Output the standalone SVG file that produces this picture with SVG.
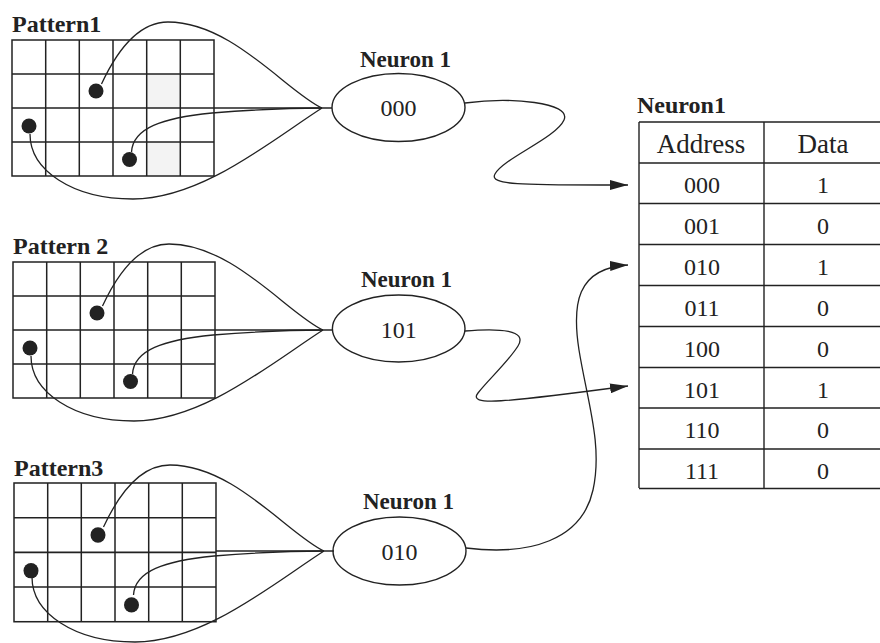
<svg xmlns="http://www.w3.org/2000/svg" width="880" height="643" viewBox="0 0 880 643">
  <style>
    .grid { fill: none; stroke: #222; stroke-width: 1.5; }
    .dot { fill: #222; }
    .wire { fill: none; stroke: #222; stroke-width: 1.3; }
    .node { fill: #fff; stroke: #222; stroke-width: 1.4; }
    .title { font-family: "Liberation Serif", "Times New Roman", serif; font-weight: bold; font-size: 24px; fill: #222; }
    .val { font-family: "Liberation Serif", "Times New Roman", serif; font-size: 24px; fill: #222; text-anchor: middle; }
    .head { font-family: "Liberation Serif", "Times New Roman", serif; font-size: 27px; fill: #222; text-anchor: middle; }
    .tbl { fill: none; stroke: #222; stroke-width: 1.4; }
  </style>
  <defs>
    <marker id="arrow" viewBox="0 0 18 10" refX="18" refY="5" markerWidth="18" markerHeight="10" markerUnits="userSpaceOnUse" orient="auto">
      <path d="M0,0 L18,5 L0,10 Z" fill="#222"/>
    </marker>
    <!-- 6x4 input grid with three active cells -->
    <g id="grid6x4">
      <rect x="0" y="0" width="202" height="136" class="grid"/>
      <path class="grid" d="M33.7,0V136 M67.3,0V136 M101,0V136 M134.7,0V136 M168.3,0V136 M0,34H202 M0,68H202 M0,102H202"/>
      <circle class="dot" cx="84" cy="51" r="7.5"/>
      <circle class="dot" cx="17" cy="86" r="7.5"/>
      <circle class="dot" cx="117.5" cy="119.5" r="7.5"/>
    </g>
    <!-- wires gathering the three sampled cells into the neuron input -->
    <g id="fanin">
      <path class="wire" d="M89.5,44 C103,15 125,-18 156,-18 C220,-18 275,52 310,68"/>
      <path class="wire" d="M18,94 C18,130 60,159 121,159 C190,159 260,100 310,68"/>
      <path class="wire" d="M119.5,112 C121,88 150,78 200,73 C250,69 285,68 310,68"/>
      <path class="wire" d="M202,68 H320"/>
    </g>
  </defs>

  <rect width="880" height="643" fill="#fff"/>

  <!-- input patterns -->
  <g id="pattern1">
    <text class="title" x="12" y="32">Pattern1</text>
    <rect x="146.7" y="74" width="33.6" height="34" fill="#f3f3f3"/>
    <rect x="146.7" y="142" width="33.6" height="34" fill="#f3f3f3"/>
    <use href="#grid6x4" transform="translate(12,40)"/>
  </g>
  <g id="pattern2">
    <text class="title" x="13" y="254">Pattern 2</text>
    <use href="#grid6x4" transform="translate(13,262)"/>
  </g>
  <g id="pattern3">
    <text class="title" x="14" y="476">Pattern3</text>
    <use href="#grid6x4" transform="translate(14,483) scale(1,1.02)"/>
  </g>

  <!-- neurons -->
  <g id="neuron-a">
    <text class="title" x="360" y="67" style="font-size:23px">Neuron 1</text>
    <ellipse class="node" cx="398.5" cy="107.5" rx="66.5" ry="34"/>
    <text class="val" x="398.5" y="115.5">000</text>
  </g>
  <g id="neuron-b">
    <text class="title" x="361" y="287" style="font-size:23px">Neuron 1</text>
    <ellipse class="node" cx="398.7" cy="328.5" rx="66.3" ry="33.5"/>
    <text class="val" x="398.7" y="338">101</text>
  </g>
  <g id="neuron-c">
    <text class="title" x="363" y="509" style="font-size:23px">Neuron 1</text>
    <ellipse class="node" cx="399.5" cy="551" rx="66.5" ry="34"/>
    <text class="val" x="399.5" y="560">010</text>
  </g>

  <!-- lookup table of the neuron -->
  <g id="lookup-table">
    <text class="title" x="637" y="113">Neuron1</text>
    <path class="tbl" d="M639,122 H880 M639,122 V488 M764,122 V488 M639,163 H880 M639,203.5 H880 M639,244.5 H880 M639,285.5 H880 M639,326.5 H880 M639,367.5 H880 M639,408 H880 M639,449 H880 M639,488.5 H880"/>
    <text class="head" x="701" y="153">Address</text>
    <text class="head" x="823" y="153">Data</text>
    <text class="val" x="702" y="193">000</text><text class="val" x="823" y="193">1</text>
    <text class="val" x="702" y="234">001</text><text class="val" x="823" y="234">0</text>
    <text class="val" x="702" y="275">010</text><text class="val" x="823" y="275">1</text>
    <text class="val" x="702" y="316">011</text><text class="val" x="823" y="316">0</text>
    <text class="val" x="702" y="357">100</text><text class="val" x="823" y="357">0</text>
    <text class="val" x="702" y="398">101</text><text class="val" x="823" y="398">1</text>
    <text class="val" x="702" y="438">110</text><text class="val" x="823" y="438">0</text>
    <text class="val" x="702" y="479">111</text><text class="val" x="823" y="479">0</text>
  </g>

  <g id="connectors">
    <use href="#fanin" transform="translate(12,40)"/>
    <use href="#fanin" transform="translate(13,262)"/>
    <use href="#fanin" transform="translate(14,483)"/>
    <path class="wire" marker-end="url(#arrow)" d="M465,103 C510,97 572,102 564,120 C556,138 504,158 495,174 C488,186 530,185 628,185"/>
    <path class="wire" marker-end="url(#arrow)" d="M465,331 C500,328 528,330 518,346 C508,362 488,380 478,393 C468,406 500,403 628,386"/>
    <path class="wire" marker-end="url(#arrow)" d="M466,548 C530,556 582,540 593,490 C603,445 587,400 579,350 C572,305 576,268 628,265"/>
  </g>
</svg>
